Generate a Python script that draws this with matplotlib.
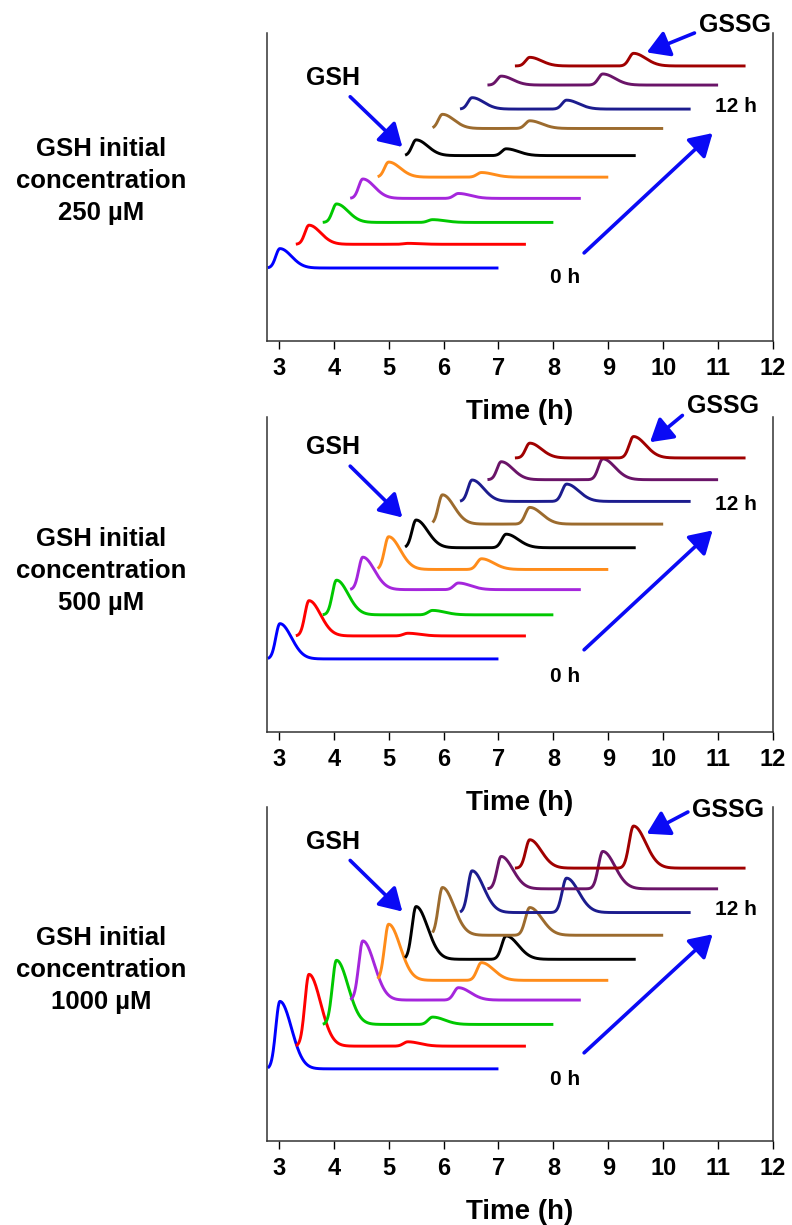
import matplotlib
matplotlib.use('Agg')
import numpy as np
import matplotlib.pyplot as plt

plt.rcParams['font.family'] = ['Liberation Sans', 'DejaVu Sans']
plt.rcParams['font.weight'] = 'bold'

# one chromatogram per sampling time, 0 h (bottom) -> 12 h (top)
trace_colors = ['#0000FF', '#FF0000', '#00C800', '#A526DC', '#FF8C1A',
                '#000000', '#9C6B2E', '#1C1C8E', '#6A1468', '#A00000']
trace_start = [2.8, 3.31, 3.8, 4.3, 4.8, 5.3, 5.8, 6.3, 6.8, 7.3]
trace_end = [7.0, 7.5, 8.0, 8.5, 9.0, 9.5, 10.0, 10.5, 11.0, 11.5]
gsh_rt = [3.02, 3.55, 4.05, 4.53, 5.0, 5.5, 5.98, 6.52, 7.05, 7.57]
gssg_rt = [5.2, 5.35, 5.8, 6.27, 6.69, 7.14, 7.57, 8.24, 8.9, 9.46]

# panel 1: 250 uM
base_250 = [23.7, 31.4, 38.5, 46.3, 53.2, 60.2, 69.0, 75.3, 83.1, 89.3]
gsh_250 = [6.3, 6.2, 6.0, 6.3, 4.9, 5.1, 4.6, 3.7, 2.9, 2.8]
gssg_250 = [0.0, 0.3, 0.9, 1.6, 1.5, 2.2, 2.5, 2.9, 3.6, 4.1]

# panel 2: 500 uM
base_500 = [23.2, 30.5, 37.2, 45.2, 51.6, 58.5, 66.0, 73.2, 80.1, 87.0]
gsh_500 = [11.2, 11.2, 11.0, 10.3, 10.4, 8.8, 9.3, 6.8, 5.7, 4.7]
gssg_500 = [0.0, 0.85, 1.4, 2.1, 3.4, 4.3, 5.3, 5.5, 6.6, 6.8]

# panel 3: 1000 uM
base_1000 = [21.6, 28.4, 34.9, 42.2, 48.1, 54.4, 61.6, 68.4, 75.5, 81.7]
gsh_1000 = [20.2, 21.5, 19.2, 17.7, 16.8, 15.8, 14.3, 12.5, 9.7, 8.5]
gssg_1000 = [0.0, 1.3, 2.2, 3.7, 5.3, 7.0, 8.3, 10.3, 11.2, 12.6]

panel_labels = ['GSH initial\nconcentration\n250 \u00b5M',
                'GSH initial\nconcentration\n500 \u00b5M',
                'GSH initial\nconcentration\n1000 \u00b5M']
xticks = [3, 4, 5, 6, 7, 8, 9, 10, 11, 12]

ARROW = '#0A0AF5'


def peak(t, rt, h, sl, sr):
    # skewed peak: steep front, longer tail
    s = np.where(t < rt, sl, sr)
    return h * np.exp(-0.5 * ((t - rt) / s) ** 2)


def arrow(ax, x0, y0, x1, y1):
    ax.annotate('', xy=(x1, y1), xytext=(x0, y0), annotation_clip=False,
                arrowprops=dict(arrowstyle='-|>,head_length=0.75,head_width=0.45',
                                lw=2.6, color=ARROW, mutation_scale=18,
                                shrinkA=0, shrinkB=0))


def draw_panel(ax, base, gsh, gssg, ann):
    for i in range(len(base)):
        t = np.linspace(trace_start[i], trace_end[i], 600)
        y = base[i] + peak(t, gsh_rt[i], gsh[i], 0.075, 0.21) \
            + peak(t, gssg_rt[i], gssg[i], 0.08, 0.22)
        ax.plot(t, y, color=trace_colors[i], lw=2.1, solid_capstyle='butt')

    ax.patch.set_visible(False)
    ax.set_xlim(2.785, 12)
    ax.set_ylim(0, 100)
    ax.set_yticks([])
    ax.set_xticks(xticks)
    ax.tick_params(axis='x', direction='out', length=5.5, width=1, pad=6, labelsize=17)
    for lab in ax.get_xticklabels():
        lab.set_fontweight('bold')
    ax.spines['top'].set_visible(False)
    for s in ['left', 'right', 'bottom']:
        ax.spines[s].set_linewidth(1.1)
        ax.spines[s].set_color('#333333')
    ax.set_xlabel('Time (h)', fontsize=20, fontweight='bold', labelpad=14)

    gsh_txt, gsh_arr, gssg_txt, gssg_arr, h12, h0_arr, h0 = ann
    ax.text(gsh_txt[0], gsh_txt[1], 'GSH', fontsize=18, fontweight='bold',
            ha='center', va='center')
    arrow(ax, *gsh_arr)
    ax.text(gssg_txt[0], gssg_txt[1], 'GSSG', fontsize=18, fontweight='bold',
            ha='center', va='center', clip_on=False)
    arrow(ax, *gssg_arr)
    ax.text(11.33, h12, '12 h', fontsize=15, fontweight='bold', ha='center', va='center')
    arrow(ax, *h0_arr)
    ax.text(8.22, h0, '0 h', fontsize=15, fontweight='bold', ha='center', va='center')


fig = plt.figure(figsize=(7.92, 12.25), dpi=100)
W, H = 792., 1225.
boxes = [(33, 341), (417, 732), (807, 1141)]
label_y = [181, 571, 970]

anns = [
    ((3.99, 85.3), (4.30, 79.3, 5.25, 63.0), (11.3, 102.7), (10.57, 100.0, 9.70, 93.7),
     76.0, (8.56, 28.6, 10.9, 67.5), 20.5),
    ((3.99, 90.4), (4.30, 84.4, 5.25, 68.1), (11.09, 103.4), (10.35, 100.5, 9.76, 92.0),
     72.1, (8.56, 26.1, 10.9, 64.0), 17.6),
    ((3.99, 89.5), (4.30, 84.0, 5.25, 68.7), (11.18, 99.0), (10.45, 98.5, 9.70, 92.0),
     69.4, (8.56, 26.4, 10.9, 61.9), 18.3),
]
data = [(base_250, gsh_250, gssg_250),
        (base_500, gsh_500, gssg_500),
        (base_1000, gsh_1000, gssg_1000)]

for k in range(3):
    top, bot = boxes[k]
    ax = fig.add_axes([267 / W, 1 - bot / H, (773 - 267) / W, (bot - top) / H])
    draw_panel(ax, *data[k], anns[k])
    fig.text(101 / W, 1 - label_y[k] / H, panel_labels[k], fontsize=18.5,
             fontweight='bold', ha='center', va='center', linespacing=1.42)

fig.savefig('out.png', dpi=100)
